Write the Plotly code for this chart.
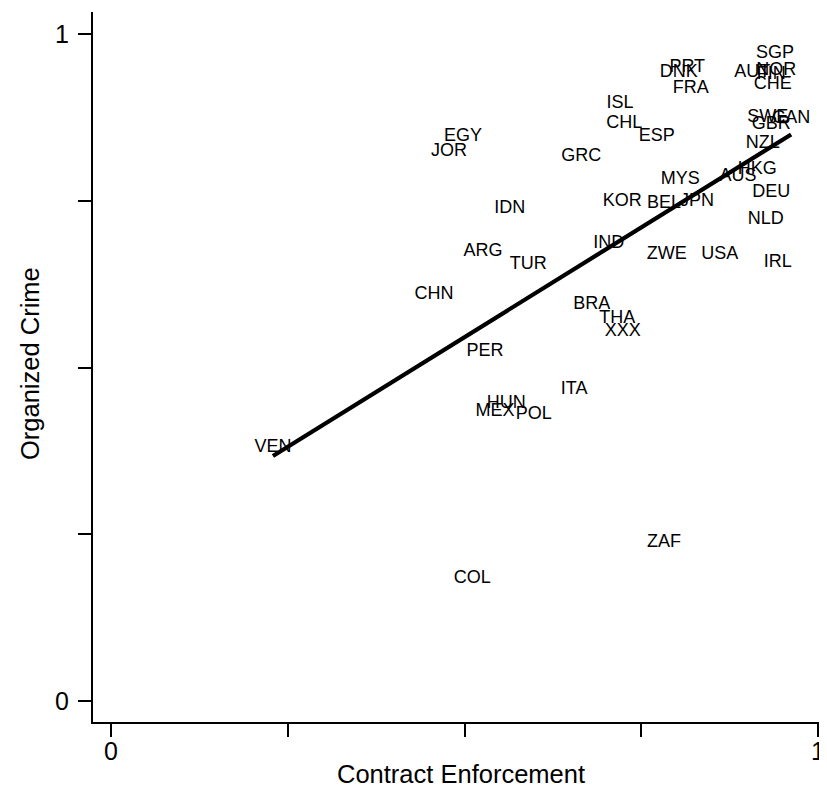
import numpy as np
import plotly.graph_objects as go

countries = ["SGP","PRT","DNK","AUT","NOR","FIN","CHE","FRA","ISL","CHL","ESP","SWE","CAN","GBR","NZL",
             "EGY","JOR","GRC","HKG","AUS","MYS","DEU","KOR","BEL","JPN","IDN","NLD","IND","ARG","ZWE",
             "USA","TUR","IRL","CHN","BRA","THA","XXX","PER","ITA","HUN","MEX","POL","VEN","ZAF","COL"]
contract_enforcement = [0.939,0.815,0.803,0.907,0.941,0.934,0.936,0.820,0.720,0.726,0.772,0.929,0.962,0.934,0.922,
                        0.498,0.478,0.665,0.914,0.887,0.805,0.934,0.723,0.782,0.829,0.564,0.926,0.704,0.526,0.786,
                        0.861,0.590,0.943,0.457,0.680,0.716,0.724,0.529,0.655,0.559,0.543,0.598,0.229,0.782,0.511]
organized_crime = [0.958,0.937,0.929,0.929,0.932,0.926,0.911,0.905,0.883,0.853,0.833,0.862,0.860,0.851,0.823,
                   0.833,0.811,0.803,0.784,0.773,0.769,0.749,0.736,0.733,0.736,0.725,0.709,0.673,0.661,0.656,
                   0.656,0.641,0.644,0.596,0.581,0.560,0.541,0.511,0.454,0.433,0.421,0.416,0.367,0.224,0.170]
x_ticks = [0, 0.25, 0.5, 0.75, 1]
x_tick_labels = ["0", "", "", "", "1"]
y_ticks = [0, 0.25, 0.5, 0.75, 1]
y_tick_labels = ["0", "", "", "", "1"]

xa = np.array(contract_enforcement)
ya = np.array(organized_crime)
slope, intercept = np.polyfit(xa, ya, 1)
fx = np.array([xa.min(), xa.max()])
fy = intercept + slope * fx

FONT = "Liberation Sans, Arial, Helvetica, sans-serif"

fig = go.Figure()
fig.add_trace(go.Scatter(x=contract_enforcement, y=organized_crime, mode="text", text=countries,
                         textposition="top center",
                         textfont=dict(family=FONT, size=18, color="black"), showlegend=False))
fig.add_trace(go.Scatter(x=fx, y=fy, mode="lines", line=dict(color="black", width=4.2), showlegend=False))

fig.update_layout(
    width=827, height=796,
    margin=dict(l=85, r=15, t=4, b=82),
    paper_bgcolor="white", plot_bgcolor="white",
    font=dict(family=FONT, color="black"),
    xaxis=dict(range=[-0.0255, 1.0028], showgrid=False, zeroline=False, showline=True, linecolor="black",
               linewidth=2, ticks="outside", ticklen=13, tickwidth=2, tickcolor="black",
               tickvals=x_ticks, ticktext=x_tick_labels, tickfont=dict(size=25), automargin=False,
               ticklabelstandoff=-7, title=dict(text="")),
    yaxis=dict(range=[-0.0315, 1.033], showgrid=False, zeroline=False, showline=True, linecolor="black",
               linewidth=2, ticks="outside", ticklen=13, tickwidth=2, tickcolor="black",
               tickvals=y_ticks, ticktext=y_tick_labels, tickfont=dict(size=25), ticklabelstandoff=4,
               automargin=False, title=dict(text="")),
    annotations=[
        dict(text="Contract Enforcement", xref="paper", yref="paper", x=(461 - 93) / 727, y=-(774 - 722) / 710,
             showarrow=False, font=dict(size=25.5), xanchor="center", yanchor="middle"),
        dict(text="Organized Crime", xref="paper", yref="paper", x=-(93 - 30) / 727, y=(722 - 364) / 710,
             showarrow=False, font=dict(size=25.5), textangle=-90, xanchor="center", yanchor="middle"),
    ],
)
fig.write_html("out.html")
